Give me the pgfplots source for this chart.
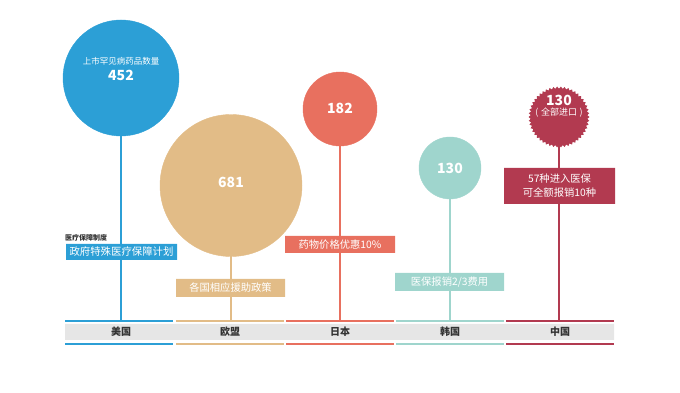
\documentclass[border=0pt]{standalone}
\usepackage{pgfplots}
\pgfplotsset{compat=1.18}
\usepackage{fontspec}
\setmainfont{Noto Sans CJK SC}

\definecolor{usblue}{HTML}{2C9FD6}
\definecolor{eutan}{HTML}{E2BC87}
\definecolor{jpcoral}{HTML}{E8705F}
\definecolor{krteal}{HTML}{9FD5CD}
\definecolor{cncrim}{HTML}{B23A50}
\definecolor{bandgray}{HTML}{E6E6E6}
\definecolor{labeltext}{HTML}{333333}

\newcount\serrc
\newdimen\serrr
\pgfdeclareplotmark{serrated}{%
  \pgfpathmoveto{\pgfqpointpolar{0}{\pgfplotmarksize}}%
  \serrc=1
  \loop
    \pgfmathsetmacro\serrang{\the\serrc*3.6}%
    \ifodd\serrc \serrr=0.93\pgfplotmarksize \else \serrr=\pgfplotmarksize \fi
    \pgfpathlineto{\pgfpointpolar{\serrang}{\serrr}}%
    \advance\serrc by 1
  \ifnum\serrc<100 \repeat
  \pgfpathclose
  \pgfusepathqfill
}

\begin{document}
\begin{tikzpicture}
\begin{axis}[width=680pt, height=393pt, scale only axis,
  xmin=0, xmax=680, ymin=0, ymax=393, y dir=reverse,
  axis lines=none, clip=false, set layers=standard]
% invisible frame
\addplot[draw=none] coordinates {(0,0) (680,393)};

% vertical stems
\addplot[draw=usblue, line width=1.5pt] coordinates {(121,78) (121,321)};
\addplot[draw=eutan, line width=1.5pt] coordinates {(231,185) (231,321)};
\addplot[draw=jpcoral, line width=1.5pt] coordinates {(340,109) (340,321)};
\addplot[draw=krteal, line width=1.5pt] coordinates {(450,168) (450,321)};
\addplot[draw=cncrim, line width=1.5pt] coordinates {(559,117) (559,321)};

% bubbles (value -> radius, area proportional)
\addplot[only marks, mark=*, mark size=58pt, mark options={draw=usblue, fill=usblue}] coordinates {(121,78)};   % 452
\addplot[only marks, mark=*, mark size=71pt, mark options={draw=eutan, fill=eutan}] coordinates {(231,185.5)}; % 681
\addplot[only marks, mark=*, mark size=37pt, mark options={draw=jpcoral, fill=jpcoral}] coordinates {(340,109)};  % 182
\addplot[only marks, mark=*, mark size=31pt, mark options={draw=krteal, fill=krteal}] coordinates {(450,168)};   % 130
\addplot[only marks, mark=serrated, mark size=30.5pt, mark options={draw=cncrim, fill=cncrim}] coordinates {(559,117)}; % 130

% policy boxes
\addplot[fill=usblue, draw=none] coordinates {(66,244) (177,244) (177,260) (66,260) (66,244)};
\addplot[fill=eutan, draw=none] coordinates {(176,279) (285,279) (285,297) (176,297) (176,279)};
\addplot[fill=jpcoral, draw=none] coordinates {(285,236) (395,236) (395,253) (285,253) (285,236)};
\addplot[fill=krteal, draw=none] coordinates {(395,273) (504,273) (504,291) (395,291) (395,273)};
\addplot[fill=cncrim, draw=none] coordinates {(504,168) (615,168) (615,204) (504,204) (504,168)};

% category band
\addplot[fill=bandgray, draw=none] coordinates {(65,324) (614,324) (614,340) (65,340) (65,324)};
\addplot[draw=usblue, line width=2pt] coordinates {(65,321) (173,321)};
\addplot[draw=eutan, line width=2pt] coordinates {(176,321) (284,321)};
\addplot[draw=jpcoral, line width=2pt] coordinates {(286,321) (394,321)};
\addplot[draw=krteal, line width=2pt] coordinates {(396,321) (504,321)};
\addplot[draw=cncrim, line width=2pt] coordinates {(506,321) (614,321)};
\addplot[draw=usblue, line width=2pt] coordinates {(65,344) (173,344)};
\addplot[draw=eutan, line width=2pt] coordinates {(176,344) (284,344)};
\addplot[draw=jpcoral, line width=2pt] coordinates {(286,344) (394,344)};
\addplot[draw=krteal, line width=2pt] coordinates {(396,344) (504,344)};
\addplot[draw=cncrim, line width=2pt] coordinates {(506,344) (614,344)};

% texts
\begin{pgfonlayer}{axis foreground}
\node[text=white, font=\fontsize{8.5}{10}\selectfont] at (121,61) {上市罕见病药品数量};
\node[text=white, font=\bfseries\fontsize{14}{16}\selectfont] at (121,75.5) {452};
\node[text=white, font=\bfseries\fontsize{14}{16}\selectfont] at (231,182) {681};
\node[text=white, font=\bfseries\fontsize{14}{16}\selectfont] at (340,108) {182};
\node[text=white, font=\bfseries\fontsize{14}{16}\selectfont] at (450,168) {130};
\node[text=white, font=\bfseries\fontsize{14}{16}\selectfont] at (559,100.5) {130};
\node[text=white, font=\fontsize{9}{10}\selectfont] at (559,113) {(\;全部进口\;)};

\node[anchor=west, inner sep=0pt, text=labeltext, font=\bfseries\fontsize{7}{8}\selectfont] at (65,237.5) {医疗保障制度};
\node[text=white, font=\fontsize{10.4}{12}\selectfont] at (121.5,252) {政府特殊医疗保障计划};
\node[text=white, font=\fontsize{10.3}{12}\selectfont] at (230.5,288) {各国相应援助政策};
\node[text=white, font=\fontsize{10.3}{12}\selectfont] at (340,244.5) {药物价格优惠10\%};
\node[text=white, font=\fontsize{10.3}{12}\selectfont] at (449.5,282) {医保报销2/3费用};
\node[text=white, align=center, font=\fontsize{10.3}{14}\selectfont] at (559.5,185.5) {57种进入医保\\可全额报销10种};

\node[text=labeltext, font=\bfseries\fontsize{10}{11}\selectfont] at (121,332) {美国};
\node[text=labeltext, font=\bfseries\fontsize{10}{11}\selectfont] at (230,332) {欧盟};
\node[text=labeltext, font=\bfseries\fontsize{10}{11}\selectfont] at (340,332) {日本};
\node[text=labeltext, font=\bfseries\fontsize{10}{11}\selectfont] at (450,332) {韩国};
\node[text=labeltext, font=\bfseries\fontsize{10}{11}\selectfont] at (560,332) {中国};
\end{pgfonlayer}
\end{axis}
\end{tikzpicture}
\end{document}
